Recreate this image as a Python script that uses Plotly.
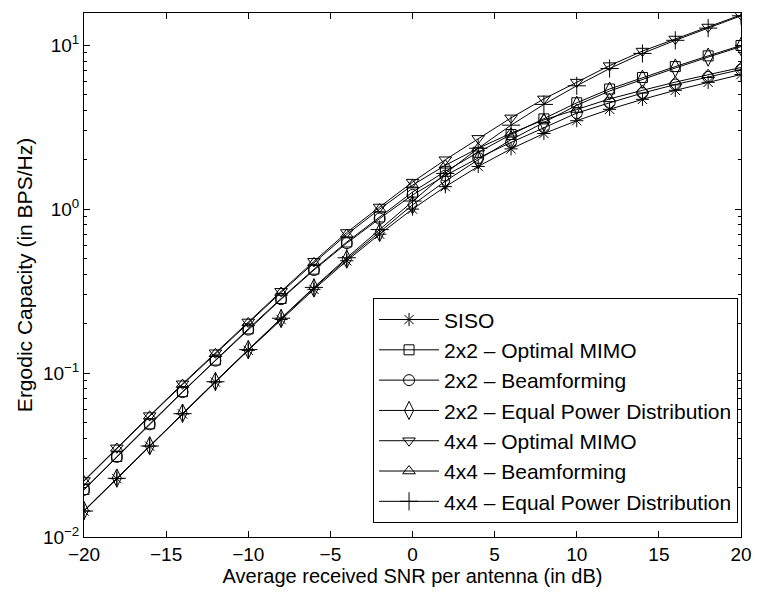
import plotly.graph_objects as go

snr_db = [-20, -18, -16, -14, -12, -10, -8, -6, -4, -2, 0, 2, 4, 6, 8, 10, 12, 14, 16, 18, 20]

siso = [0.0144, 0.0227, 0.0358, 0.0563, 0.0881, 0.1375, 0.212, 0.324, 0.484, 0.703, 1.0,
        1.37, 1.82, 2.33, 2.89, 3.46, 4.06, 4.67, 5.30, 5.93, 6.62]
mimo2_opt = [0.0195, 0.031, 0.049, 0.077, 0.120, 0.186, 0.285, 0.43, 0.63, 0.895, 1.27,
             1.70, 2.22, 2.85, 3.55, 4.45, 5.40, 6.35, 7.40, 8.60, 9.95]
mimo2_bf = [0.0194, 0.0308, 0.0487, 0.0765, 0.119, 0.184, 0.282, 0.425, 0.62, 0.875, 1.22,
            1.60, 2.05, 2.55, 3.15, 3.85, 4.45, 5.10, 5.75, 6.40, 7.10]
mimo2_eq = [0.0145, 0.0229, 0.036, 0.057, 0.089, 0.139, 0.215, 0.33, 0.495, 0.72, 1.06,
            1.48, 2.00, 2.65, 3.38, 4.30, 5.25, 6.20, 7.25, 8.45, 9.80]
mimo4_opt = [0.0221, 0.035, 0.055, 0.086, 0.133, 0.205, 0.315, 0.48, 0.72, 1.03, 1.46,
             2.00, 2.70, 3.60, 4.70, 5.95, 7.50, 9.20, 10.9, 12.9, 15.3]
mimo4_bf = [0.0219, 0.0347, 0.0545, 0.085, 0.131, 0.202, 0.31, 0.47, 0.70, 1.00, 1.40,
            1.85, 2.35, 2.90, 3.50, 4.05, 4.70, 5.30, 5.95, 6.60, 7.30]
mimo4_eq = [0.0144, 0.0228, 0.0359, 0.0565, 0.0885, 0.139, 0.216, 0.333, 0.505, 0.75, 1.12,
            1.65, 2.35, 3.25, 4.35, 5.65, 7.20, 8.90, 10.7, 12.7, 15.1]

series_names = ["SISO", "2x2 \u2013 Optimal MIMO", "2x2 \u2013 Beamforming",
                "2x2 \u2013 Equal Power Distribution", "4x4 \u2013 Optimal MIMO",
                "4x4 \u2013 Beamforming", "4x4 \u2013 Equal Power Distribution"]
series_values = [siso, mimo2_opt, mimo2_bf, mimo2_eq, mimo4_opt, mimo4_bf, mimo4_eq]
symbols = ["asterisk-open", "square-open", "circle-open", "diamond-tall-open",
           "triangle-down-open", "triangle-up-open", "cross-thin-open"]
sizes = [11, 10, 11, 13, 11, 11, 13]

y_tickvals = [0.01, 0.1, 1, 10]
y_ticktext = ["10<sup>\u22122</sup>", "10<sup>\u22121</sup>", "10<sup>0</sup>", "10<sup>1</sup>"]
x_tickvals = [-20, -15, -10, -5, 0, 5, 10, 15, 20]
x_ticktext = ["\u221220", "\u221215", "\u221210", "\u22125", "0", "5", "10", "15", "20"]

FONT = "Liberation Sans, Arial, Helvetica, sans-serif"

fig = go.Figure()
for name, vals, sym, sz in zip(series_names, series_values, symbols, sizes):
    fig.add_trace(go.Scatter(
        x=snr_db, y=vals, name=name, mode="lines+markers",
        line=dict(color="black", width=1),
        marker=dict(symbol=sym, size=sz, color="black",
                    line=dict(color="black", width=1)),
    ))

minor_vals = []
for d in [0.01, 0.1, 1, 10]:
    for k in range(2, 10):
        v = d * k
        if v < 15.7:
            minor_vals.append(v)

fig.update_layout(
    width=764, height=593,
    margin=dict(l=84, r=12, t=13, b=53),
    paper_bgcolor="white", plot_bgcolor="white",
    font=dict(family=FONT, size=19, color="black"),
    showlegend=True,
    legend=dict(
        x=0.9955, y=0.026, xanchor="right", yanchor="bottom",
        bordercolor="black", borderwidth=1, bgcolor="white",
        font=dict(family=FONT, size=21, color="black"),
        itemwidth=60, tracegroupgap=0,
    ),
    xaxis=dict(
        range=[-20, 20], tickvals=x_tickvals, ticktext=x_ticktext,
        ticks="inside", ticklen=6, tickwidth=1, tickcolor="black",
        showline=True, linecolor="black", linewidth=1, mirror="allticks",
        showgrid=False, zeroline=False,
        title=dict(text="Average received SNR per antenna (in dB)", standoff=2,
                   font=dict(family=FONT, size=20)),
        tickfont=dict(family=FONT, size=19),
    ),
    yaxis=dict(
        type="log", range=[-2, 1.196], tickvals=y_tickvals, ticktext=y_ticktext,
        ticks="inside", ticklen=6, tickwidth=1, tickcolor="black",
        showline=True, linecolor="black", linewidth=1, mirror="allticks",
        showgrid=False, zeroline=False,
        minor=dict(tickvals=minor_vals, ticks="inside", ticklen=3,
                   tickcolor="black", showgrid=False),
        title=dict(text="Ergodic Capacity (in BPS/Hz)", standoff=4,
                   font=dict(family=FONT, size=21)),
        tickfont=dict(family=FONT, size=19),
    ),
)

fig.write_html("out.html")
